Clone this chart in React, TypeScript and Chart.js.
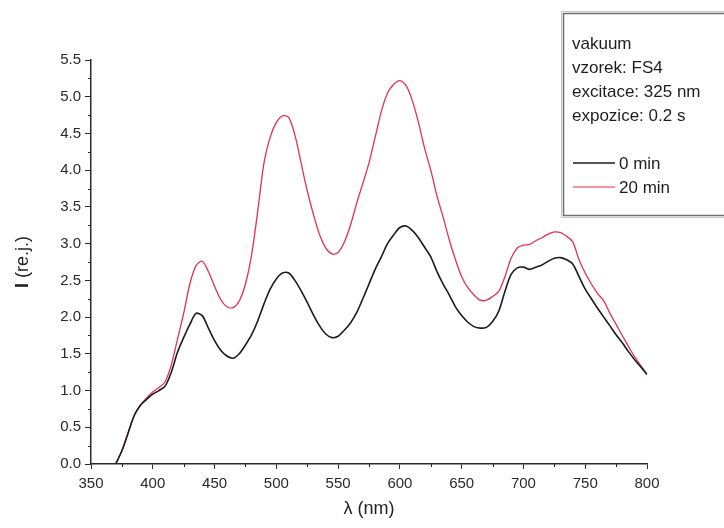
import React, { useEffect, useRef } from 'react';
import { Chart, registerables } from 'chart.js';

Chart.register(...registerables);

// wavelength (nm)
const wavelengths = [
  370, 375, 380, 385, 390, 395, 400, 405, 410, 415, 420, 425, 430, 435, 440, 445, 450, 455, 460, 465,
  470, 475, 480, 485, 490, 495, 500, 505, 510, 515, 520, 525, 530, 535, 540, 545, 550, 555, 560, 565,
  570, 575, 580, 585, 590, 595, 600, 605, 610, 615, 620, 625, 630, 635, 640, 645, 650, 655, 660, 665,
  670, 675, 680, 685, 690, 695, 700, 705, 710, 715, 720, 725, 730, 735, 740, 745, 750, 755, 760, 765,
  770, 775, 780, 785, 790, 795, 800,
];

// 0 min (black)
const series0min = [
  0.0, 0.18, 0.42, 0.66, 0.8, 0.88, 0.95, 1.0, 1.06, 1.25, 1.52, 1.72, 1.9, 2.05, 2.02, 1.85, 1.68, 1.55, 1.47, 1.44,
  1.5, 1.62, 1.76, 1.95, 2.18, 2.38, 2.52, 2.6, 2.6, 2.5, 2.36, 2.2, 2.03, 1.88, 1.77, 1.72, 1.74, 1.82, 1.92, 2.06,
  2.25, 2.45, 2.65, 2.82, 3.0, 3.12, 3.22, 3.24, 3.18, 3.08, 2.95, 2.82, 2.62, 2.45, 2.3, 2.14, 2.02, 1.93, 1.87, 1.85,
  1.86, 1.94, 2.08, 2.35, 2.58, 2.67, 2.68, 2.65, 2.68, 2.71, 2.76, 2.8, 2.81, 2.78, 2.72, 2.55, 2.38, 2.25, 2.12, 2.0,
  1.88, 1.76, 1.65, 1.53, 1.42, 1.32, 1.22,
];

// 20 min (red)
const series20min = [
  0.0, 0.18, 0.42, 0.66, 0.8, 0.9, 0.98, 1.04, 1.12, 1.35, 1.7, 2.05, 2.45, 2.7, 2.76, 2.62, 2.42, 2.24, 2.14, 2.13,
  2.22, 2.45, 2.85, 3.45, 4.1, 4.45, 4.65, 4.74, 4.72, 4.48, 4.1, 3.72, 3.4, 3.12, 2.94, 2.86, 2.88, 3.02, 3.25, 3.55,
  3.82, 4.1, 4.45, 4.8, 5.05, 5.17, 5.22, 5.15, 4.95, 4.65, 4.3, 4.0, 3.65, 3.36, 3.05, 2.78, 2.55, 2.4, 2.3, 2.23,
  2.23, 2.28, 2.35, 2.55, 2.8, 2.94, 2.98, 2.99, 3.04, 3.08, 3.13, 3.16, 3.15, 3.1, 3.02, 2.78, 2.6, 2.45, 2.32, 2.22,
  2.05, 1.9, 1.75, 1.6, 1.46, 1.34, 1.22,
];

const xMinorTicks = [375, 425, 475, 525, 575, 625, 675, 725, 775];
const yMinorTicks = [0.25, 0.75, 1.25, 1.75, 2.25, 2.75, 3.25, 3.75, 4.25, 4.75, 5.25];

const infoLines = ['vakuum', 'vzorek: FS4', 'excitace: 325 nm', 'expozice: 0.2 s'];
const legendLabels = ['0 min', '20 min'];
const seriesColors = ['#1c1c1c', '#e3324c'];

const FONT = '"Liberation Sans", Arial, sans-serif';
const AXIS = '#2a2a2a';

const decorPlugin = {
  id: 'decor',
  afterDraw(chart: any) {
    const ctx = chart.ctx as CanvasRenderingContext2D;
    const xs = chart.scales.x;
    const ys = chart.scales.y;
    const area = chart.chartArea;
    ctx.save();
    // minor ticks
    ctx.strokeStyle = AXIS;
    ctx.lineWidth = 1;
    ctx.beginPath();
    for (const v of xMinorTicks) {
      const px = Math.round(xs.getPixelForValue(v)) + 0.5;
      ctx.moveTo(px, area.bottom);
      ctx.lineTo(px, area.bottom + 3);
    }
    for (const v of yMinorTicks) {
      const py = Math.round(ys.getPixelForValue(v)) + 0.5;
      ctx.moveTo(area.left, py);
      ctx.lineTo(area.left - 3, py);
    }
    ctx.stroke();

    // axis titles
    ctx.fillStyle = '#222';
    ctx.textAlign = 'center';
    ctx.textBaseline = 'alphabetic';
    ctx.font = `18px ${FONT}`;
    ctx.fillText('\u03bb (nm)', (area.left + area.right) / 2, 514);

    ctx.save();
    ctx.translate(28, (area.top + area.bottom) / 2);
    ctx.rotate(-Math.PI / 2);
    ctx.font = `bold 18px ${FONT}`;
    const iW = ctx.measureText('I').width;
    ctx.font = `18px ${FONT}`;
    const restW = ctx.measureText(' (re.j.)').width;
    const total = iW + restW;
    ctx.textAlign = 'left';
    ctx.font = `bold 18px ${FONT}`;
    ctx.fillText('I', -total / 2, 0);
    ctx.font = `18px ${FONT}`;
    ctx.fillText(' (re.j.)', -total / 2 + iW, 0);
    ctx.restore();

    // info / legend box
    const bx = 563.5;
    const by = 13.5;
    const bw = 200;
    const bh = 202;
    ctx.strokeStyle = '#c8c8c8';
    ctx.lineWidth = 1;
    ctx.strokeRect(bx - 2, by - 2, bw, bh + 4);
    ctx.strokeStyle = '#6e6e6e';
    ctx.lineWidth = 1.5;
    ctx.strokeRect(bx, by, bw, bh);

    ctx.fillStyle = '#1e1e1e';
    ctx.textAlign = 'left';
    ctx.font = `17px ${FONT}`;
    infoLines.forEach((t, i) => {
      ctx.fillText(t, 572, 49 + i * 24);
    });
    legendLabels.forEach((t, i) => {
      const y = 163 + i * 24;
      ctx.strokeStyle = seriesColors[i];
      ctx.lineWidth = i === 0 ? 1.6 : 1.2;
      ctx.beginPath();
      ctx.moveTo(573, y);
      ctx.lineTo(615, y);
      ctx.stroke();
      ctx.fillText(t, 619, y + 6);
    });
    ctx.restore();
  },
};

export default function App() {
  const canvasRef = useRef<HTMLCanvasElement | null>(null);

  useEffect(() => {
    document.body.style.margin = '0';
    const canvas = canvasRef.current;
    if (!canvas) return;
    const chart = new Chart(canvas, {
      type: 'line',
      data: {
        datasets: [
          {
            label: legendLabels[0],
            data: wavelengths.map((x, i) => ({ x, y: series0min[i] })),
            borderColor: seriesColors[0],
            borderWidth: 1.6,
            pointRadius: 0,
            tension: 0.3,
            fill: false,
          },
          {
            label: legendLabels[1],
            data: wavelengths.map((x, i) => ({ x, y: series20min[i] })),
            borderColor: seriesColors[1],
            borderWidth: 1.3,
            pointRadius: 0,
            tension: 0.3,
            fill: false,
          },
        ],
      },
      options: {
        animation: false,
        responsive: false,
        maintainAspectRatio: false,
        layout: { padding: { left: 0, right: 77, top: 60, bottom: 0 } },
        plugins: {
          legend: { display: false },
          tooltip: { enabled: false },
          title: { display: false },
        },
        scales: {
          x: {
            type: 'linear',
            min: 350,
            max: 800,
            afterFit: (s: any) => {
              s.height = 64;
            },
            ticks: {
              stepSize: 50,
              color: '#2a2a2a',
              padding: 6,
              maxRotation: 0,
              font: { family: FONT, size: 15 },
            },
            grid: { drawOnChartArea: false, drawTicks: true, tickLength: 5, color: AXIS, lineWidth: 1 },
            border: { display: true, color: AXIS, width: 1.5 },
          },
          y: {
            type: 'linear',
            min: 0,
            max: 5.5,
            afterFit: (s: any) => {
              s.width = 91;
            },
            ticks: {
              stepSize: 0.5,
              color: '#2a2a2a',
              padding: 4,
              font: { family: FONT, size: 15 },
              callback: (v: any) => Number(v).toFixed(1),
            },
            grid: { drawOnChartArea: false, drawTicks: true, tickLength: 6, color: AXIS, lineWidth: 1 },
            border: { display: true, color: AXIS, width: 1.5 },
          },
        },
      },
      plugins: [decorPlugin],
    });
    return () => chart.destroy();
  }, []);

  return (
    <div style={{ position: 'fixed', left: 0, top: 0, width: 724, height: 528, background: '#fff' }}>
      <canvas ref={canvasRef} width={724} height={528} style={{ width: 724, height: 528, display: 'block' }} />
    </div>
  );
}
